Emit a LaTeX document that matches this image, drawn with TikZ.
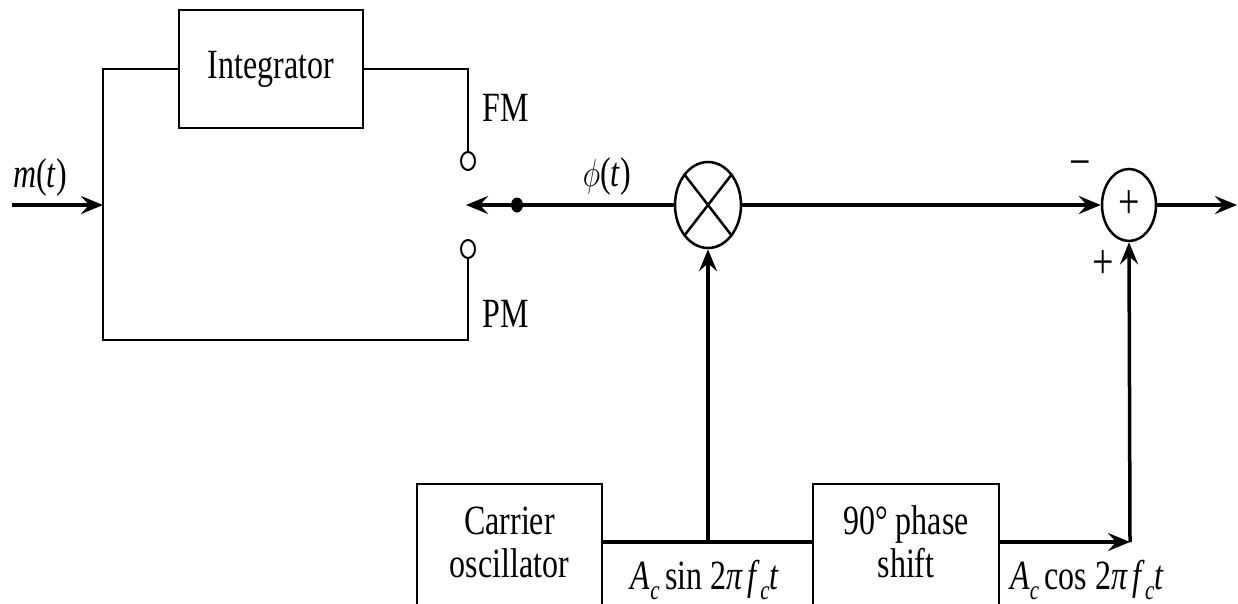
\documentclass[tikz,border=0pt]{standalone}
\usepackage{fontspec}
\setmainfont{Liberation Serif}
\usetikzlibrary{arrows.meta,shapes.geometric}
\newcommand\vstr[1]{\scalebox{1}[1.3]{#1}}
\newcommand\subc{\raisebox{-0.22em}{\fontsize{21}{21}\selectfont\textit{c}}}
\tikzset{
 thk/.style={line width=3.5pt},
 thn/.style={line width=2pt},
 arr/.style={-{Stealth[length=22pt,width=18pt,inset=8pt]}},
 blk/.style={draw,line width=2pt,inner sep=0pt},
 lbl/.style={inner sep=0pt,font=\fontsize{32}{34}\selectfont},
 sgn/.style={inner sep=0pt,font=\fontsize{38}{40}\selectfont},
 junc/.style={draw,ellipse,line width=2.5pt,inner sep=0pt},
 port/.style={draw,ellipse,line width=2pt,minimum width=14pt,minimum height=18pt,inner sep=0pt},
}
\begin{document}
\begin{tikzpicture}[x=1pt,y=-1pt]
\useasboundingbox (0,0) rectangle (1238,603);
% blocks
\node[blk,minimum width=184pt,minimum height=118pt] (integ) at (271,69) {};
\node[lbl] (integt) at (271,69) {\vstr{Integrator}};
\node[blk,minimum width=185pt,minimum height=126pt] (car) at (509.5,547)
  {\vstr{\fontsize{32}{33}\selectfont\begin{tabular}{@{}c@{}}Carrier\\oscillator\end{tabular}}};
\node[blk,minimum width=186pt,minimum height=126pt] (phase) at (906,547)
  {\vstr{\fontsize{32}{33}\selectfont\begin{tabular}{@{}c@{}}90° phase\\shift\end{tabular}}};
% junctions
\node[junc,minimum width=66pt,minimum height=86pt] (mult) at (708,205) {};
\draw[line width=2.5pt] (mult.north east) -- (mult.south west)
  (mult.north west) -- (mult.south east);
\node[junc,minimum width=54pt,minimum height=72pt] (sum) at (1129,205) {};
\node[sgn] (sumplus) at (1129,205) {\vstr{+}};
% switch
\node[port] (fm) at (468,161) {};
\node[port] (pm) at (468,249) {};
\node[fill,ellipse,minimum width=12pt,minimum height=15pt,inner sep=0pt] (dot) at (517,205) {};
\coordinate (swin) at (466,205);
\coordinate (tr) at (468,69);
\coordinate (tl) at (103,69);
\coordinate (bl) at (103,340);
\coordinate (brr) at (468,340);
\coordinate (min) at (12,205);
\coordinate (mjoin) at (103,205);
\coordinate (out) at (1237,205);
\coordinate (br) at (708,542);
\coordinate (cc) at (1130,542);
% wires
\draw[thn] (integ.east) -- (tr) -- (fm.north);
\draw[line width=2.5pt] (integ.west) -- (tl) -- (bl) -- (brr) -- (pm.south);
\draw[thk,arr] (min) -- (mjoin);
\draw[thk,arr] (mult.west) -- (swin);
\draw[thk,arr] (mult.east) -- (sum.west);
\draw[thk,arr] (sum.east) -- (out);
\draw[thk] (car.east |- cc) -- (phase.west |- cc);
\draw[thk,arr] (br) -- (mult.south);
\draw[thk,arr] (phase.east |- cc) -- (cc);
\draw[thk,arr] (cc) -- (sum.south);
% labels
\node[lbl] (lm) at (40,177) {\vstr{\textit{m}(\textit{t})}};
\node[lbl] (lphi) at (607,176) {\vstr{\scalebox{1.2}{$\phi$}(\textit{t})}};
\node[lbl] (lfm) at (506,108) {\vstr{FM}};
\node[lbl] (lpm) at (506,314) {\vstr{PM}};
\node[sgn] (lminus) at (1080,170) {\vstr{−}};
\node[sgn] (lplus) at (1103,265) {\vstr{+}};
\node[lbl] (lsin) at (705,580) {\vstr{\textit{A}\subc\,sin 2\textit{π\,f}\subc\textit{t}}};
\node[lbl] (lcos) at (1087,580) {\vstr{\textit{A}\subc\,cos 2\textit{π\,f}\subc\textit{t}}};
\end{tikzpicture}
\end{document}
